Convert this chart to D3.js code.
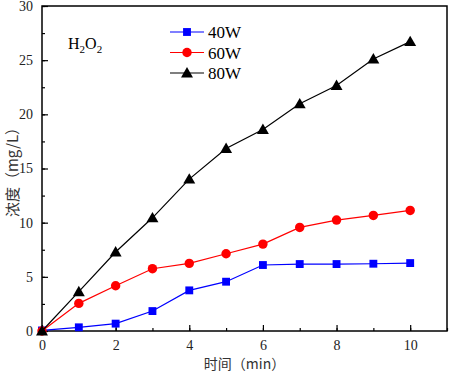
<!DOCTYPE html>
<html>
<head>
<meta charset="utf-8">
<script src="https://cdn.jsdelivr.net/npm/d3@7"></script>
<style>
body { margin: 0; background: #fff; }
</style>
</head>
<body>
<div id="chart"></div>
<script>
var times = [0, 1, 2, 3, 4, 5, 6, 7, 8, 9, 10];
var w40 = [0.05, 0.34, 0.68, 1.84, 3.75, 4.55, 6.09, 6.18, 6.18, 6.21, 6.27];
var w60 = [0, 2.55, 4.18, 5.75, 6.24, 7.13, 8.02, 9.56, 10.24, 10.67, 11.13];
var w80 = [0, 3.63, 7.29, 10.45, 14.02, 16.85, 18.6, 20.97, 22.66, 25.11, 26.71];
var seriesNames = ["40W", "60W", "80W"];
var xTicks = [0, 2, 4, 6, 8, 10];
var yTicks = [0, 5, 10, 15, 20, 25, 30];

function init(){
    var w = 453;
    var h = 374;
    var left = 42, right = 447, top = 6, bottom = 331;

    var xScale = d3.scaleLinear().domain([0, 11]).range([left, right]);
    var yScale = d3.scaleLinear().domain([0, 30]).range([bottom, top]);

    var svg = d3.select("#chart")
                .append("svg")
                .attr("width", w)
                .attr("height", h);

    var series = [
        {name: seriesNames[0], values: w40, color: "#0000ff", shape: d3.symbolSquare, size: 62},
        {name: seriesNames[1], values: w60, color: "#ff0000", shape: d3.symbolCircle, size: 70},
        {name: seriesNames[2], values: w80, color: "#000000", shape: d3.symbolTriangle, size: 62}
    ];

    // minor ticks
    var xMinor = d3.axisBottom(xScale).tickValues(d3.range(0, 11.01, 1)).tickSize(-3).tickFormat("");
    var yMinor = d3.axisLeft(yScale).tickValues(d3.range(0, 30.01, 2.5)).tickSize(-3).tickFormat("");
    svg.append("g").attr("transform", "translate(0," + bottom + ")").call(xMinor);
    svg.append("g").attr("transform", "translate(" + left + ",0)").call(yMinor);

    var xAxis = d3.axisBottom(xScale).tickValues(xTicks).tickSize(-6).tickPadding(9);
    var yAxis = d3.axisLeft(yScale).tickValues(yTicks).tickSize(-6).tickPadding(9);
    svg.append("g").attr("class", "axis").attr("transform", "translate(0," + bottom + ")").call(xAxis);
    svg.append("g").attr("class", "axis").attr("transform", "translate(" + left + ",0)").call(yAxis);
    svg.selectAll(".domain").remove();
    svg.selectAll(".tick line").attr("stroke", "#000").attr("stroke-width", 1.2);
    svg.selectAll(".axis .tick text")
        .attr("font-family", "Liberation Serif, serif")
        .attr("font-size", 14)
        .attr("fill", "#222");

    // frame
    svg.append("rect")
        .attr("x", left).attr("y", top)
        .attr("width", right - left).attr("height", bottom - top)
        .attr("fill", "none").attr("stroke", "#000").attr("stroke-width", 1.5);

    var line = d3.line()
        .x(function(d, i) { return xScale(times[i]); })
        .y(function(d) { return yScale(d); });

    series.forEach(function(s){
        svg.append("path")
            .datum(s.values)
            .attr("d", line)
            .attr("fill", "none")
            .attr("stroke", s.color)
            .attr("stroke-width", 1.2);
        svg.selectAll(null)
            .data(s.values)
            .enter()
            .append("path")
            .attr("d", d3.symbol().type(s.shape).size(s.size))
            .attr("transform", function(d, i) {
                var dy = s.shape === d3.symbolTriangle ? 1 : 0;
                return "translate(" + xScale(times[i]) + "," + (yScale(d) + dy) + ")";
            })
            .attr("fill", s.color);
    });

    // legend
    series.forEach(function(s, i){
        var ly = 32 + i * 20.5;
        svg.append("line")
            .attr("x1", 170).attr("x2", 204)
            .attr("y1", ly).attr("y2", ly)
            .attr("stroke", s.color).attr("stroke-width", 1.2);
        svg.append("path")
            .attr("d", d3.symbol().type(s.shape).size(s.size))
            .attr("transform", "translate(187," + (ly + (s.shape === d3.symbolTriangle ? 1 : 0)) + ")")
            .attr("fill", s.color);
        svg.append("text")
            .attr("x", 208).attr("y", ly + 6)
            .attr("font-family", "Liberation Serif, serif")
            .attr("font-size", 17)
            .text(s.name);
    });

    // H2O2 label
    var lab = svg.append("text")
        .attr("x", 68).attr("y", 49)
        .attr("font-family", "Liberation Serif, serif")
        .attr("font-size", 16);
    lab.append("tspan").text("H");
    lab.append("tspan").attr("font-size", 11).attr("dy", 4).text("2");
    lab.append("tspan").attr("dy", -4).text("O");
    lab.append("tspan").attr("font-size", 11).attr("dy", 4).text("2");

    // axis titles
    svg.append("text")
        .attr("x", (left + right) / 2).attr("y", 369)
        .attr("text-anchor", "middle")
        .attr("font-family", "Noto Sans CJK SC, sans-serif")
        .attr("font-size", 14)
        .attr("fill", "#333")
        .text("时间（min）");
    svg.append("text")
        .attr("transform", "translate(18," + ((top + bottom) / 2) + ") rotate(-90)")
        .attr("text-anchor", "middle")
        .attr("font-family", "Noto Sans CJK SC, sans-serif")
        .attr("font-size", 15)
        .attr("fill", "#333")
        .text("浓度（mg/L）");
}
window.onload = init;
</script>
</body>
</html>
